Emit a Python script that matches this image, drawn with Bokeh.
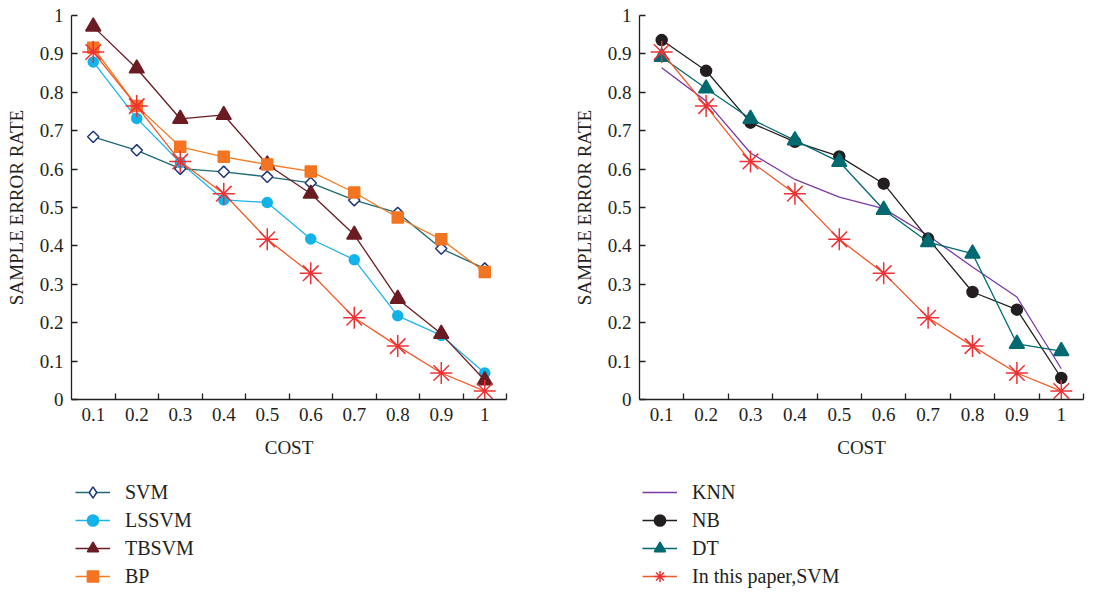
from bokeh.plotting import figure
from bokeh.models import FixedTicker, Legend, LegendItem, Range1d
from bokeh.layouts import row, column
from bokeh.embed import file_html
from bokeh.resources import INLINE
import math

cost = [0.1, 0.2, 0.3, 0.4, 0.5, 0.6, 0.7, 0.8, 0.9, 1.0]

svm = [0.684, 0.649, 0.601, 0.593, 0.580, 0.564, 0.519, 0.486, 0.393, 0.341]
lssvm = [0.879, 0.732, 0.617, 0.520, 0.513, 0.418, 0.364, 0.218, 0.167, 0.069]
tbsvm = [0.971, 0.862, 0.731, 0.741, 0.612, 0.536, 0.429, 0.262, 0.171, 0.050]
bp = [0.916, 0.764, 0.658, 0.632, 0.612, 0.594, 0.539, 0.474, 0.417, 0.332]
paper_svm = [0.905, 0.764, 0.620, 0.536, 0.417, 0.329, 0.213, 0.139, 0.069, 0.022]

knn = [0.864, 0.777, 0.642, 0.573, 0.527, 0.497, 0.427, 0.345, 0.267, 0.080]
nb = [0.936, 0.856, 0.721, 0.671, 0.633, 0.562, 0.419, 0.280, 0.234, 0.056]
dt = [0.892, 0.810, 0.731, 0.675, 0.619, 0.494, 0.410, 0.380, 0.145, 0.126]

y_ticks = [0, 0.1, 0.2, 0.3, 0.4, 0.5, 0.6, 0.7, 0.8, 0.9, 1]
x_minor = [0.15, 0.25, 0.35, 0.45, 0.55, 0.65, 0.75, 0.85, 0.95, 1.05]

left_names = ["SVM", "LSSVM", "TBSVM", "BP"]
right_names = ["KNN", "NB", "DT", "In this paper,SVM"]

FONT = "Liberation Serif"
TXT = "#231f20"

STYLES_LEFT = [
    dict(line_color="#1d6a70", marker="square", m_color="#1f3577", fill="white", size=8, angle=math.pi / 4),
    dict(line_color="#1fb4e8", marker="circle", m_color="#12b3ea", fill="#12b3ea", size=10),
    dict(line_color="#6b1c22", marker="triangle", m_color="#6b1c22", fill="#6b1c22", size=15),
    dict(line_color="#f47b20", marker="square", m_color="#f47521", fill="#f47521", size=11),
]
STYLE_PAPER = dict(line_color="#f05a28", marker="asterisk", m_color="#ee3135", fill=None, size=22)
STYLES_RIGHT = [
    dict(line_color="#7a3aa6"),
    dict(line_color="#231f20", marker="circle", m_color="#231f20", fill="#231f20", size=11),
    dict(line_color="#006a70", marker="triangle", m_color="#006a70", fill="#006a70", size=15),
    STYLE_PAPER,
]
# legend swatch for SVM: an open diamond
LEGEND_LEFT = [dict(STYLES_LEFT[0], marker="diamond", angle=0.0)] + STYLES_LEFT[1:]


def make_fig(border_left, border_right):
    p = figure(width=554, height=469, output_backend="svg", toolbar_location=None,
               x_range=(0.05, 1.05), y_range=(0, 1),
               min_border_left=border_left, min_border_right=border_right,
               min_border_top=15, min_border_bottom=70)
    p.outline_line_color = None
    p.grid.visible = False
    for ax in (p.xaxis[0], p.yaxis[0]):
        ax.axis_line_color = TXT
        ax.axis_line_width = 1.3
        ax.major_label_text_font = FONT
        ax.major_label_text_font_size = "19px"
        ax.major_label_text_color = TXT
        ax.axis_label_text_font = FONT
        ax.axis_label_text_font_size = "19px"
        ax.axis_label_text_font_style = "normal"
        ax.axis_label_text_color = TXT
        ax.major_label_standoff = 8
    xa = p.xaxis[0]
    xa.ticker = FixedTicker(ticks=cost, minor_ticks=x_minor)
    xa.major_label_overrides = {1: "1"}
    xa.major_tick_in = 0
    xa.major_tick_out = 0
    xa.minor_tick_in = 6
    xa.minor_tick_out = 0
    xa.minor_tick_line_color = TXT
    xa.minor_tick_line_width = 1.3
    xa.axis_label = "COST"
    xa.axis_label_standoff = 13
    ya = p.yaxis[0]
    ya.ticker = FixedTicker(ticks=y_ticks, minor_ticks=[])
    ya.major_label_overrides = {0: "0", 1: "1"}
    ya.major_tick_in = 6
    ya.major_tick_out = 0
    ya.major_tick_line_color = TXT
    ya.major_tick_line_width = 1.3
    ya.axis_label = "SAMPLE ERROR RATE"
    ya.axis_label_standoff = 10
    return p


def series(p, ys, line_color, marker=None, m_color=None, fill=None, size=10, angle=0.0, lw=1.3):
    rs = [p.line(cost, ys, line_color=line_color, line_width=lw)]
    if marker is not None:
        rs.append(p.scatter(cost, ys, marker=marker, size=size, angle=angle,
                            line_color=m_color, fill_color=fill, line_width=1.5))
    return rs


def legend_fig(names, datas, styles, x_off):
    # Strip below each chart holding only the legend; its glyphs lie outside
    # this strip's ranges, so only the legend swatches are seen.
    lf = figure(width=554, height=124, output_backend="svg", toolbar_location=None,
                x_range=Range1d(5, 6), y_range=Range1d(5, 6),
                min_border=0, x_axis_type=None, y_axis_type=None)
    lf.outline_line_color = None
    lf.grid.visible = False
    items = []
    for name, ys, st in zip(names, datas, styles):
        rs = series(lf, ys, **st)
        items.append(LegendItem(label=name, renderers=rs))
    leg = Legend(items=items, location=(x_off, 3), orientation="vertical",
                 label_text_font=FONT, label_text_font_size="20px", label_text_color=TXT,
                 glyph_width=35, glyph_height=28, label_height=28, spacing=0,
                 label_standoff=15, padding=0, margin=0,
                 border_line_color=None, background_fill_alpha=0)
    lf.add_layout(leg)
    return lf


# Left panel
p1 = make_fig(71, 48)
for ys, st in zip([svm, lssvm, tbsvm, bp], STYLES_LEFT):
    series(p1, ys, **st)
series(p1, paper_svm, **STYLE_PAPER)
l1 = legend_fig(left_names, [svm, lssvm, tbsvm, bp], LEGEND_LEFT, 75)

# Right panel
p2 = make_fig(85, 25)
for ys, st in zip([knn, nb, dt, paper_svm], STYLES_RIGHT):
    series(p2, ys, **st)
l2 = legend_fig(right_names, [knn, nb, dt, paper_svm], STYLES_RIGHT, 88)

layout = column(row(p1, p2), row(l1, l2))
open("out.html", "w").write(file_html(layout, INLINE))
